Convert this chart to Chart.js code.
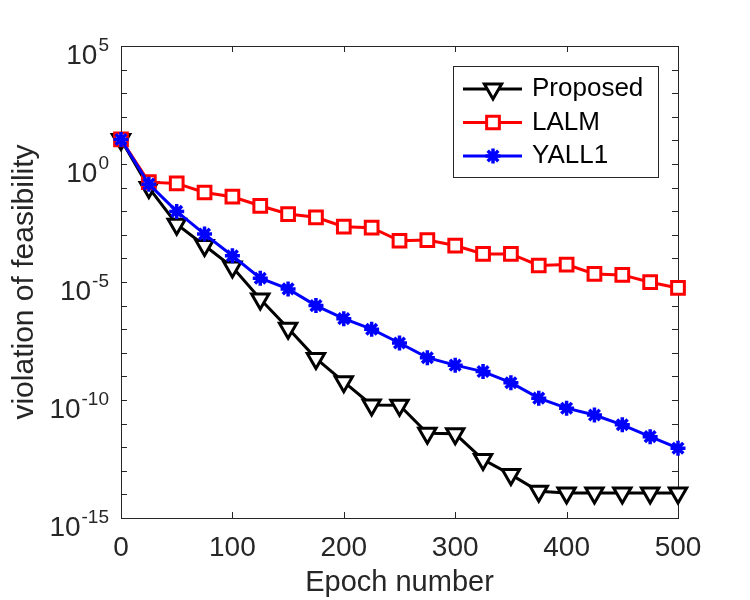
<!DOCTYPE html>
<html>
<head>
<meta charset="utf-8">
<script src="https://cdn.jsdelivr.net/npm/chart.js@4.4.0/dist/chart.umd.min.js"></script>
<style>
  html, body { margin: 0; padding: 0; background: #fff; }
</style>
</head>
<body>
<canvas id="feasChart" width="750" height="600"></canvas>
<script>
// epochs and the three curves
const epochs = [0, 25, 50, 75, 100, 125, 150, 175, 200, 225, 250, 275, 300, 325, 350, 375, 400, 425, 450, 475, 500];
const proposed = [11, 0.1, 2.8e-3, 3.5e-4, 4.3e-5, 1.9e-6, 1.1e-7, 5.8e-9, 5.9e-10, 6.2e-11, 6.0e-11,
                  3.9e-12, 3.7e-12, 3.0e-13, 6.9e-14, 1.35e-14, 1.15e-14, 1.15e-14, 1.15e-14, 1.15e-14, 1.15e-14];
const lalm = [11, 0.17, 0.15, 0.062, 0.041, 0.017, 7.6e-3, 5.5e-3, 2.2e-3, 2.0e-3, 5.6e-4,
              6.0e-4, 3.5e-4, 1.55e-4, 1.55e-4, 5.0e-5, 5.5e-5, 2.2e-5, 2.0e-5, 9.8e-6, 5.6e-6];
const yall1 = [11, 0.14, 9.8e-3, 1.07e-3, 1.3e-4, 1.45e-5, 5.1e-6, 1.0e-6, 2.8e-7, 1.0e-7, 2.6e-8,
               6.2e-9, 3.0e-9, 1.6e-9, 5.4e-10, 1.2e-10, 4.5e-11, 2.3e-11, 8.9e-12, 2.8e-12, 9.1e-13];

const xTicks = [0, 100, 200, 300, 400, 500];
const yDecades = [-15, -14, -13, -12, -11, -10, -9, -8, -7, -6, -5, -4, -3, -2, -1, 0, 1, 2, 3, 4, 5];
const yLabelExps = [5, 0, -5, -10, -15];

const FONT = '"Liberation Sans", Arial, Helvetica, sans-serif';
const AXIS_COL = '#262626';

function pts(arr) {
  return epochs.map((x, i) => ({ x: x, y: arr[i] }));
}

// axes box, inward ticks, 10^n labels and legend
const axesDeco = {
  id: 'axesDeco',
  beforeDatasetsDraw(chart) {
    const ctx = chart.ctx, a = chart.chartArea;
    const xs = chart.scales.x, ys = chart.scales.y;
    ctx.save();
    ctx.strokeStyle = AXIS_COL;
    ctx.lineWidth = 1;
    ctx.strokeRect(Math.round(a.left) + 0.5, Math.round(a.top) + 0.5,
                   Math.round(a.right - a.left), Math.round(a.bottom - a.top));
    ctx.beginPath();
    xTicks.forEach(v => {
      const px = Math.round(xs.getPixelForValue(v)) + 0.5;
      ctx.moveTo(px, a.bottom); ctx.lineTo(px, a.bottom - 6);
      ctx.moveTo(px, a.top); ctx.lineTo(px, a.top + 6);
    });
    yDecades.forEach(e => {
      const py = Math.round(ys.getPixelForValue(Math.pow(10, e))) + 0.5;
      ctx.moveTo(a.left, py); ctx.lineTo(a.left + 6, py);
      ctx.moveTo(a.right, py); ctx.lineTo(a.right - 6, py);
    });
    ctx.stroke();

    // y tick labels with superscript exponent
    ctx.fillStyle = AXIS_COL;
    ctx.textAlign = 'right';
    ctx.textBaseline = 'alphabetic';
    yLabelExps.forEach(e => {
      const py = ys.getPixelForValue(Math.pow(10, e));
      const expTxt = e < 0 ? '-' + Math.abs(e) : String(e);
      ctx.font = '19px ' + FONT;
      const ew = ctx.measureText(expTxt).width;
      ctx.fillText(expTxt, 109, py + 5);
      ctx.font = '28px ' + FONT;
      ctx.fillText('10', 109 - ew - 1, py + 18);
    });
    ctx.restore();
  },
  afterDraw(chart) {
    const ctx = chart.ctx;
    const box = { l: 453, t: 66, r: 658, b: 177 };
    const rowsY = [89, 122.5, 156];
    ctx.save();
    ctx.fillStyle = '#fff';
    ctx.fillRect(box.l, box.t, box.r - box.l, box.b - box.t);
    ctx.strokeStyle = AXIS_COL;
    ctx.lineWidth = 1;
    ctx.strokeRect(box.l + 0.5, box.t + 0.5, box.r - box.l, box.b - box.t);
    chart.data.datasets.forEach((ds, i) => {
      const y = rowsY[i];
      ctx.strokeStyle = ds.borderColor;
      ctx.lineWidth = ds.borderWidth;
      ctx.beginPath();
      ctx.moveTo(463, y); ctx.lineTo(522, y);
      ctx.stroke();
      ctx.fillStyle = ds.pointBackgroundColor;
      ctx.strokeStyle = ds.pointBorderColor;
      ctx.lineWidth = ds.pointBorderWidth;
      Chart.helpers.drawPoint(ctx, {
        pointStyle: ds.pointStyle, rotation: ds.pointRotation || 0,
        radius: ds.pointRadius, borderWidth: ds.pointBorderWidth
      }, 493, y);
      ctx.fillStyle = '#000';
      ctx.font = '26px ' + FONT;
      ctx.textAlign = 'left';
      ctx.textBaseline = 'middle';
      ctx.fillText(ds.label, 532, y);
    });
    ctx.restore();
  }
};

const ctx = document.getElementById('feasChart').getContext('2d');
const myChart = new Chart(ctx, {
  type: 'line',
  data: {
    datasets: [{
      label: 'Proposed',
      data: pts(proposed),
      borderColor: '#000000', borderWidth: 3,
      pointStyle: 'triangle', pointRotation: 180, pointRadius: 10,
      pointBorderWidth: 3, pointBorderColor: '#000000', pointBackgroundColor: '#ffffff',
      order: 3, clip: false
    }, {
      label: 'LALM',
      data: pts(lalm),
      borderColor: '#ff0000', borderWidth: 3,
      pointStyle: 'rect', pointRadius: 9,
      pointBorderWidth: 3, pointBorderColor: '#ff0000', pointBackgroundColor: '#ffffff',
      order: 2, clip: false
    }, {
      label: 'YALL1',
      data: pts(yall1),
      borderColor: '#0000ff', borderWidth: 3,
      pointStyle: 'star', pointRadius: 7.5,
      pointBorderWidth: 3.5, pointBorderColor: '#0000ff', pointBackgroundColor: '#0000ff',
      order: 1, clip: false
    }]
  },
  options: {
    responsive: false,
    animation: false,
    devicePixelRatio: 1,
    layout: { padding: { top: 46, right: 72, left: 0, bottom: 0 } },
    plugins: { legend: { display: false }, tooltip: { enabled: false } },
    elements: { line: { tension: 0 } },
    scales: {
      x: {
        type: 'linear', min: 0, max: 500,
        afterFit: s => { s.height = 82; },
        afterBuildTicks: s => { s.ticks = xTicks.map(v => ({ value: v })); },
        grid: { display: false, drawTicks: false },
        border: { display: false },
        ticks: { padding: 13, color: AXIS_COL, autoSkip: false, maxRotation: 0,
                 font: { family: FONT, size: 28 } },
        title: { display: true, text: 'Epoch number', color: AXIS_COL,
                 padding: { top: 0, bottom: 0 }, font: { family: FONT, size: 29 } }
      },
      y: {
        type: 'logarithmic', min: 1e-15, max: 1e5,
        afterFit: s => { s.width = 121; },
        afterBuildTicks: s => { s.ticks = yDecades.map(e => ({ value: Math.pow(10, e) })); },
        grid: { display: false, drawTicks: false },
        border: { display: false },
        ticks: { display: false },
        title: { display: true, text: 'violation of feasibility', color: AXIS_COL,
                 padding: { top: 7, bottom: 0 }, font: { family: FONT, size: 30 } }
      }
    }
  },
  plugins: [axesDeco]
});
</script>
</body>
</html>
